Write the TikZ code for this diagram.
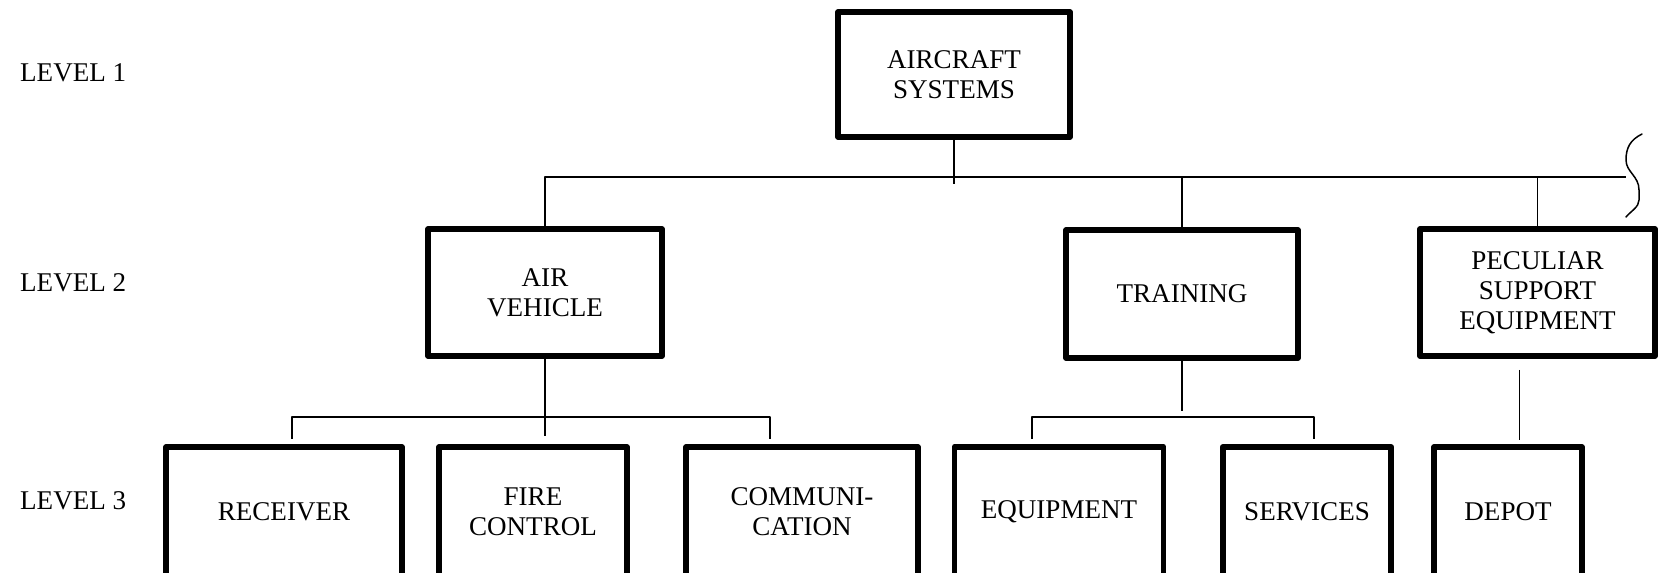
\documentclass[tikz,border=0pt]{standalone}
\usepackage{fontspec}
\setmainfont{Liberation Serif}
\begin{document}
\begin{tikzpicture}[x=0.02cm, y=-0.02cm, line join=round, line cap=round,
	font=\fontsize{15.4}{17}\selectfont,
	box/.style={draw, line width=3.3pt, align=center, inner sep=0pt},
	wire/.style={line width=0.85pt, line cap=butt}]
	\def\hA{2.54cm} \def\hB{2.6cm} % box heights
	
	\useasboundingbox (0,0) rectangle (1662,573);
	\clip (0,0) rectangle (1662,573);
	
	% levels
	\node[anchor=base west] (lv1) at (14,82) {LEVEL 1};
	\node[anchor=base west] (lv2) at (14,292) {LEVEL 2};
	\node[anchor=base west] (lv3) at (14,510) {LEVEL 3};
	
	% boxes
	\node[box, minimum width=4.64cm, minimum height=2.5cm] (sys) at (954,74.5) {AIRCRAFT\\SYSTEMS};
	\node[box, minimum width=4.68cm, minimum height=\hA] (av) at (545,292.5) {AIR\\VEHICLE};
	\node[box, minimum width=4.64cm, minimum height=2.56cm] (tr) at (1182,294) {TRAINING};
	\node[box, minimum width=4.7cm, minimum height=\hA] (pse) at (1537.5,292.5) {PECULIAR\\SUPPORT\\EQUIPMENT};
	
	\node[box, minimum width=4.72cm, minimum height=\hB] (rcv) at (284,512) {RECEIVER};
	\node[box, minimum width=3.76cm, minimum height=\hB] (fc) at (533,512) {FIRE\\CONTROL};
	\node[box, minimum width=4.64cm, minimum height=\hB] (com) at (802,512) {COMMUNI-\\CATION};
	\node[box, minimum width=4.18cm, minimum height=\hB] (eq) at (1059,512) {EQUIPMENT};
	\node[box, minimum width=3.37cm, minimum height=\hB] (srv) at (1307,512) {SERVICES};
	\node[box, minimum width=2.95cm, minimum height=\hB] (dep) at (1508,512) {DEPOT};
	
	% connectors
	\coordinate (busR) at (1626,177);
	\coordinate (avL) at (292,439); \coordinate (avR) at (770,439);
	\coordinate (trL) at (1032,439); \coordinate (trR) at (1314,439);
	
	\draw[wire] (sys.south) -- ++(0,44);
	\draw[wire] (av.north) |- (busR);
	\draw[wire] (tr.north) -- (tr.north |- busR);
	\draw[wire] (pse.north) -- (pse.north |- busR);
	
	\draw[wire] (av.south) -- ++(0,77);
	\draw[wire] (avL) -- ++(0,-22) -| (avR);
	\draw[wire] (tr.south) -- ++(0,50);
	\draw[wire] (trL) -- ++(0,-22) -| (trR);
	\draw[wire] ([xshift=-0.36cm,yshift=-0.22cm]pse.south) -- ++(0,70);
	
	% break mark
	\draw[wire, line cap=round] (1642,134) .. controls (1630,140) and (1626,148) .. (1626,160)
		.. controls (1626,172) and (1639,176) .. (1639,190) -- (1639,200)
		.. controls (1639,207) and (1631,211) .. (1626,217);
\end{tikzpicture}
\end{document}
